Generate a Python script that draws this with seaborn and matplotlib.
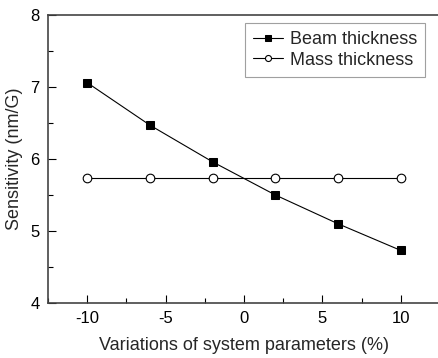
import matplotlib
matplotlib.use("Agg")
import matplotlib.pyplot as plt
import seaborn as sns
import pandas as pd
from matplotlib.ticker import MultipleLocator

variation = [-10, -6, -2, 2, 6, 10]
beam_thickness = [7.06, 6.47, 5.96, 5.50, 5.10, 4.73]
mass_thickness = [5.73, 5.73, 5.73, 5.73, 5.73, 5.73]

sns.set_style("ticks")
plt.rcParams['font.family'] = ['Liberation Sans', 'DejaVu Sans']
plt.rcParams['axes.unicode_minus'] = False

fig = plt.figure(figsize=(4.38, 3.58), dpi=100)
ax = fig.add_axes([48/438, 1-303/358, 392/438, 288/358])

df_b = pd.DataFrame({"x": variation, "y": beam_thickness})
df_m = pd.DataFrame({"x": variation, "y": mass_thickness})

sns.lineplot(data=df_b, x="x", y="y", ax=ax, color="black", linewidth=0.8,
             marker="s", markersize=5.5, markerfacecolor="black",
             markeredgecolor="black", label="Beam thickness")
sns.lineplot(data=df_m, x="x", y="y", ax=ax, color="black", linewidth=0.8,
             marker="o", markersize=6.2, markerfacecolor="white",
             markeredgecolor="black", markeredgewidth=0.8, label="Mass thickness")

ax.set_xlim(-12.5, 12.5)
ax.set_ylim(4, 8)
ax.xaxis.set_major_locator(MultipleLocator(5))
ax.xaxis.set_minor_locator(MultipleLocator(2.5))
ax.yaxis.set_major_locator(MultipleLocator(1))
ax.yaxis.set_minor_locator(MultipleLocator(0.5))
ax.tick_params(which="both", direction="in", top=False, right=False,
               labelsize=12, colors="black", width=0.8)
ax.tick_params(which="major", length=6, pad=6)
ax.tick_params(which="minor", length=3.5)
for s in ax.spines.values():
    s.set_visible(True)
    s.set_linewidth(1.2)
    s.set_color("#444444")

ax.set_xlabel("Variations of system parameters (%)", fontsize=13, labelpad=8)
ax.set_ylabel("Sensitivity (nm/G)", fontsize=13, labelpad=5)

leg = ax.legend(loc="upper right", bbox_to_anchor=(0.962, 0.972), borderaxespad=0,
                fontsize=13, frameon=True, fancybox=False, handlelength=1.7,
                handletextpad=0.35, borderpad=0.45, labelspacing=0.2,
                markerscale=0.7)
leg.get_frame().set_edgecolor("#888888")
leg.get_frame().set_linewidth(0.8)

fig.savefig("out.png", dpi=100)
